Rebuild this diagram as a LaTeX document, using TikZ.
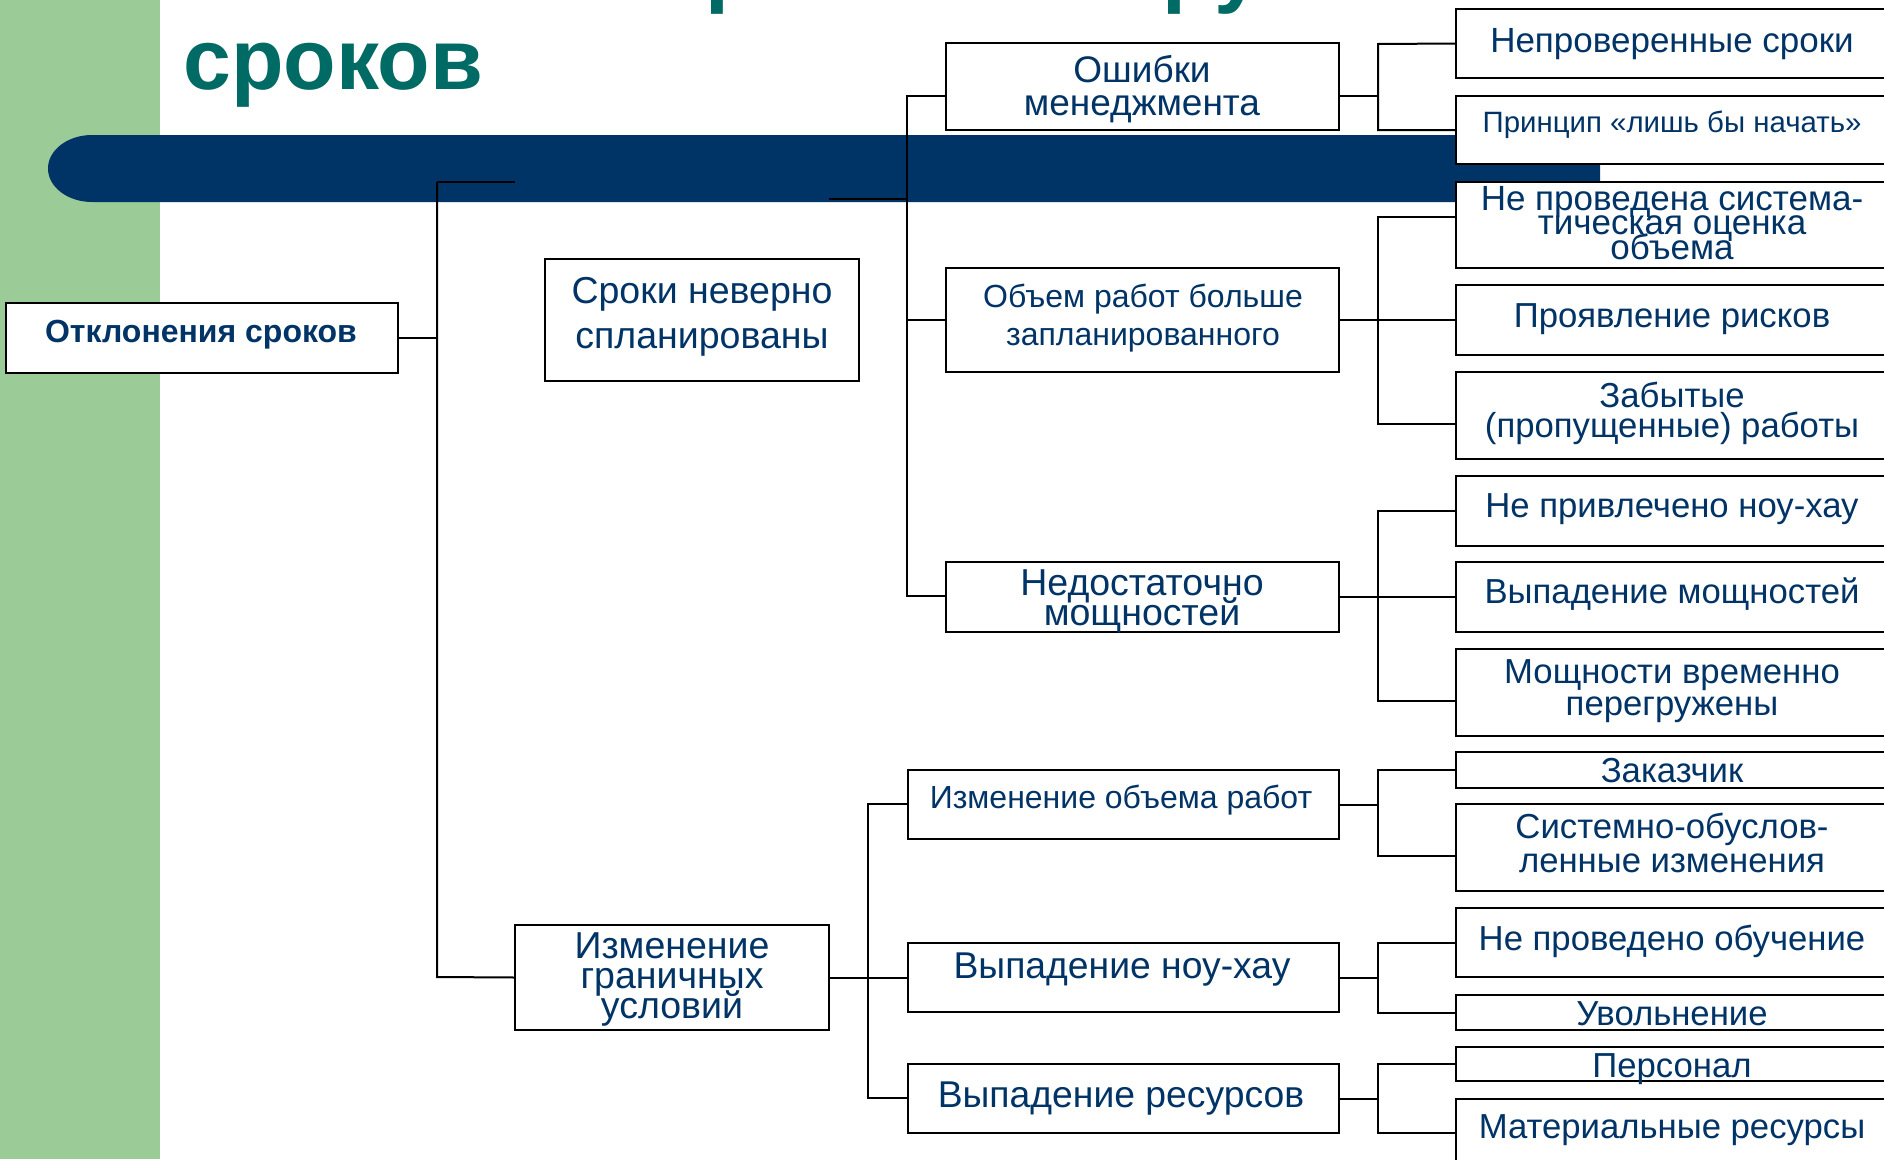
\documentclass[tikz,border=0pt]{standalone}
\usepackage{fontspec}
\setmainfont{Liberation Sans}
\definecolor{navytext}{RGB}{0,51,102}
\definecolor{barnavy}{RGB}{0,51,102}
\definecolor{titleteal}{RGB}{0,106,100}
\definecolor{bandgreen}{RGB}{155,204,152}
\newcommand\bxx[5]{\node[box, minimum width={(#4)-(#2)}, minimum height={(#5)-(#3)}] (#1) at ({((#2)+(#4))/2},{((#3)+(#5))/2}) {};}
\tikzset{
  box/.style={draw=black, line width=2.5pt, fill=white, rectangle, inner sep=0pt, outer sep=0pt},
  conn/.style={draw=black, line width=2pt},
  txt/.style={text=navytext, inner sep=0pt, align=center, anchor=base},
}
\begin{document}
\lineskiplimit=-200pt
\lineskip=0pt
\begin{tikzpicture}[x=1pt, y=-1pt]
\useasboundingbox (0,0) rectangle (1884,1159);
\fill[white] (0,0) rectangle (1884,1159);
% left band
\fill[bandgreen] (0,0) rectangle (160,1159);
% dark bar
\fill[barnavy] (1600,135) -- (92,135) arc[start angle=270, end angle=90, x radius=44, y radius=33.5] -- (1600,202) -- cycle;
% title
\node[anchor=base west, inner sep=0pt, text=titleteal, font=\fontsize{86}{94}\selectfont\bfseries] (title1) at (184,-4) {Основные причины нарушения};
\node[anchor=base west, inner sep=0pt, text=titleteal, font=\fontsize{86}{94}\selectfont\bfseries] (title2) at (183,89) {сроков};

% boxes
\bxx{otk}{6}{303}{398}{373}
\bxx{srk}{545}{259}{859}{381}
\bxx{osh}{946}{43}{1339}{130}
\bxx{obm}{946}{268}{1339}{372}
\bxx{ned}{946}{562}{1339}{632}
\bxx{izg}{515}{925}{829}{1030}
\bxx{izo}{908}{770}{1339}{839}
\bxx{vnh}{908}{943}{1339}{1012}
\bxx{vrs}{908}{1064}{1339}{1133}
\bxx{ra}{1456}{9}{1892}{78}
\bxx{rb}{1456}{96}{1892}{164}
\bxx{rc}{1456}{182}{1892}{268}
\bxx{rd}{1456}{285}{1892}{355}
\bxx{re}{1456}{372}{1892}{459}
\bxx{rf}{1456}{476}{1892}{546}
\bxx{rg}{1456}{562}{1892}{632}
\bxx{rh}{1456}{649}{1892}{736}
\bxx{ri}{1456}{752}{1892}{788}
\bxx{rj}{1456}{804}{1892}{891}
\bxx{rk}{1456}{908}{1892}{977}
\bxx{rl}{1456}{995}{1892}{1030}
\bxx{rm}{1456}{1047}{1892}{1081}
\bxx{rn}{1456}{1099}{1892}{1167}

% spine coordinates
\coordinate (s1top) at (437,182);
\coordinate (s1bot) at (437,977);
\coordinate (stubL) at (515,182);
\coordinate (s2top) at (907,96);
\coordinate (s2bot) at (907,596);
\coordinate (stubR) at (829,199);
\coordinate (s2mid) at (907,199);
\coordinate (s3top) at (868,804);
\coordinate (s3bot) at (868,1098);

% level 1
\draw[conn] (otk.east) -- (otk.east -| s1top);
\draw[conn] (s1top) -- (s1bot) -- (izg.west);
\draw[conn] (s1top) -- (stubL);
\draw[conn] (stubR) -- (s2mid);
% spine 2
\draw[conn] (osh.west |- s2top) -- (s2top) -- (s2bot) -- (ned.west |- s2bot);
\draw[conn] (obm.west) -- (obm.west -| s2top);
% spine 3
\draw[conn] (izg.east) -- (izg.east -| s3top);
\draw[conn] (izo.west |- s3top) -- (s3top) -- (s3bot) -- (vrs.west |- s3bot);
\draw[conn] (vnh.west) -- (vnh.west -| s3top);
% right spines
\draw[conn] (osh.east |- 0,96) -- (1378,96);
\draw[conn] (ra.west) -- (1378,44) -- (1378,130) -- (rb.west);
\draw[conn] (obm.east) -- (rd.west);
\draw[conn] (rc.west |- 0,217) -- (1378,217) -- (1378,424) -- (re.west |- 0,424);
\draw[conn] (ned.east) -- (rg.west);
\draw[conn] (rf.west) -- (1378,511) -- (1378,701) -- (rh.west |- 0,701);
\draw[conn] (izo.east) -- (izo.east -| 1378,0);
\draw[conn] (ri.west) -- (1378,770) -- (1378,856) -- (rj.west |- 0,856);
\draw[conn] (vnh.east) -- (vnh.east -| 1378,0);
\draw[conn] (rk.west) -- (1378,942.5) -- (1378,1012.5) -- (rl.west);
\draw[conn] (vrs.east) -- (vrs.east -| 1378,0);
\draw[conn] (rm.west) -- (1378,1064) -- (1378,1133) -- (rn.west);

% texts (anchor = baseline of last line)
\node[txt, font=\fontsize{32}{34}\selectfont\bfseries] (totk) at (201,342) {Отклонения сроков};
\node[txt, font=\fontsize{37.5}{45}\selectfont] (tsrk) at (702,348) {Сроки неверно\\спланированы};
\node[txt, font=\fontsize{37}{33}\selectfont] (tosh) at (1142,115) {Ошибки\\менеджмента};
\node[txt, font=\fontsize{32}{38}\selectfont] (tobm) at (1143,345) {Объем работ больше\\запланированного};
\node[txt, font=\fontsize{37.5}{30}\selectfont] (tned) at (1142,625) {Недостаточно\\мощностей};
\node[txt, font=\fontsize{37.5}{30}\selectfont] (tizg) at (672,1018) {Изменение\\граничных\\условий};
\node[txt, font=\fontsize{32}{34}\selectfont] (tizo) at (1121,808) {Изменение объема работ};
\node[txt, font=\fontsize{37.3}{34}\selectfont] (tvnh) at (1122,978) {Выпадение ноу-хау};
\node[txt, font=\fontsize{37.3}{34}\selectfont] (tvrs) at (1121,1107) {Выпадение ресурсов};
\node[txt, font=\fontsize{35}{34}\selectfont] (tra) at (1672,52) {Непроверенные сроки};
\node[txt, font=\fontsize{29.4}{34}\selectfont] (trb) at (1672,132) {Принцип «лишь бы начать»};
\node[txt, font=\fontsize{35}{24.5}\selectfont] (trc) at (1672,259) {Не проведена система-\\тическая оценка\\объема};
\node[txt, font=\fontsize{34.7}{34}\selectfont] (trd) at (1672,327) {Проявление рисков};
\node[txt, font=\fontsize{34.7}{30}\selectfont] (tre) at (1672,437) {Забытые\\(пропущенные) работы};
\node[txt, font=\fontsize{34.7}{34}\selectfont] (trf) at (1672,517) {Не привлечено ноу-хау};
\node[txt, font=\fontsize{34.7}{34}\selectfont] (trg) at (1672,603) {Выпадение мощностей};
\node[txt, font=\fontsize{34.7}{32}\selectfont] (trh) at (1672,715) {Мощности временно\\перегружены};
\node[txt, font=\fontsize{34.7}{34}\selectfont] (tri) at (1672,782) {Заказчик};
\node[txt, font=\fontsize{34.7}{34}\selectfont] (trj) at (1672,872) {Системно-обуслов-\\ленные изменения};
\node[txt, font=\fontsize{34.7}{34}\selectfont] (trk) at (1672,950) {Не проведено обучение};
\node[txt, font=\fontsize{34.7}{34}\selectfont] (trl) at (1672,1025) {Увольнение};
\node[txt, font=\fontsize{34.7}{34}\selectfont] (trm) at (1672,1077) {Персонал};
\node[txt, font=\fontsize{34.7}{34}\selectfont] (trn) at (1672,1138) {Материальные ресурсы};
\end{tikzpicture}
\end{document}
